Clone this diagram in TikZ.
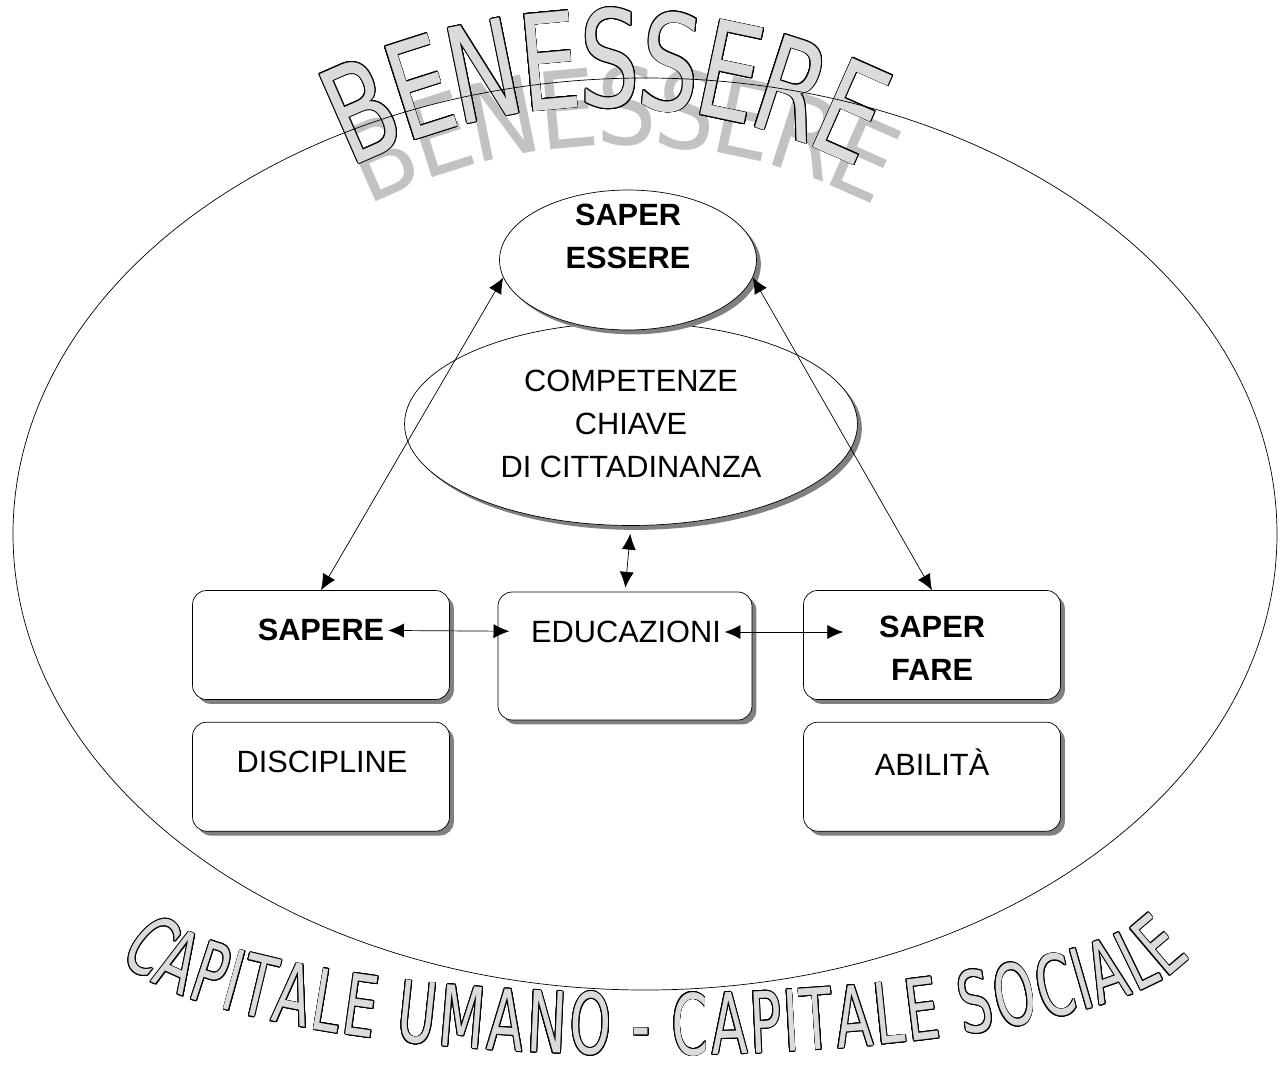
\documentclass[tikz,border=0pt]{standalone}
\usepackage{fontspec}
\usepackage{contour}
\usetikzlibrary{shapes.geometric,shadows,arrows.meta,decorations.text,positioning}
\setmainfont{Liberation Sans}
\newfontfamily\archfont[FakeStretch=0.71]{DejaVu Sans}
\newfontfamily\smilefont[FakeStretch=0.62]{DejaVu Sans}
\definecolor{letterfill}{gray}{0.86}
\definecolor{lettershade}{gray}{0.76}
\newcommand{\outl}[1]{\contour{black}{#1}}
\contourlength{0.5pt}

\begin{document}
\begin{tikzpicture}[x=0.02cm, y=-0.02cm, >={Latex[length=9pt,width=8pt]},
    font=\fontsize{17.5}{24.5}\selectfont, line join=round,
    shade/.style={drop shadow={shadow xshift=2.5pt, shadow yshift=-2.5pt, fill=black!50, opacity=1}},
    blob/.style={draw, ellipse, fill=white, shade},
    card/.style={draw, rounded corners=8pt, fill=white, minimum width=5.14cm, minimum height=2.18cm, shade},
    txt/.style={align=center, inner sep=2pt},
    bold/.style={txt, font=\fontsize{17.5}{24.5}\selectfont\bfseries}]
  \useasboundingbox (0,0) rectangle (1282,1075);
  % scritta in alto, ombra e lettere
  \path[font=\archfont\fontsize{76}{76}\selectfont,
    decoration={text effects along path, text={BENESSERE},
      text effects/.cd, text along path, fit text to path,
      characters={text=lettershade, yscale=0.8}}, decorate]
    (622,705) ++(-117:560) arc[start angle=-117, end angle=-63, radius=560];
  \path[font=\archfont\fontsize{76}{76}\selectfont,
    decoration={text effects along path, text={BENESSERE},
      text effects/.cd, text along path, fit text to path, character command=\outl,
      characters={text=letterfill}}, decorate]
    (605,667) ++(-117:560) arc[start angle=-117, end angle=-63, radius=560];
  % scritta in basso
  \path[font=\smilefont\fontsize{48}{48}\selectfont,
    decoration={text effects along path, text={CAPITALE UMANO - CAPITALE SOCIALE},
      text effects/.cd, text along path, fit text to path, character command=\outl,
      characters={text=letterfill}}, decorate]
    (655,940) ++(172:540 and 115) arc[start angle=172, end angle=8, x radius=540, y radius=115];
  \draw (645,534) ellipse [x radius=632, y radius=456];

  \node[blob, minimum width=9.06cm, minimum height=4.06cm, align=center] (compet) at (631,424)
    {COMPETENZE\\CHIAVE\\DI CITTADINANZA};
  \node[blob, minimum width=5.14cm, minimum height=2.8cm] (essere) at (628,260) {};
  \node[bold] (essere text) at (628,236) {SAPER\\ESSERE};

  \node[card] (sapbox) at (321,645) {};
  \node[card, minimum width=5.08cm, minimum height=2.56cm] (edubox) at (625,656) {};
  \node[card] (farebox) at (932,645) {};
  \node[card, below=0.44cm of sapbox] (discbox) {};
  \node[card, below=0.44cm of farebox] (abilbox) {};

  \node[bold] (sapere) at (321,630) {SAPERE};
  \node[txt] (educ) at (626,632) {EDUCAZIONI};
  \node[bold] (fare) at (932,648) {SAPER\\FARE};
  \node[txt] (discipline) at (322,762) {DISCIPLINE};
  \node[txt] (abilita) at (932,762) {ABILITÀ};

  \draw[<->, shorten >=0.36cm] (sapere) -- (educ);
  \draw[<->, shorten >=0.64cm] (educ.east) -- (educ.east -| fare.west);
  \draw[<->, shorten <=0.16cm, shorten >=0.08cm] (compet.south) -- (edubox.north);
  \draw[<->] (sapbox.north) -- (essere.188);
  \draw[<->] (farebox.north) -- (essere.-8);
\end{tikzpicture}
\end{document}
